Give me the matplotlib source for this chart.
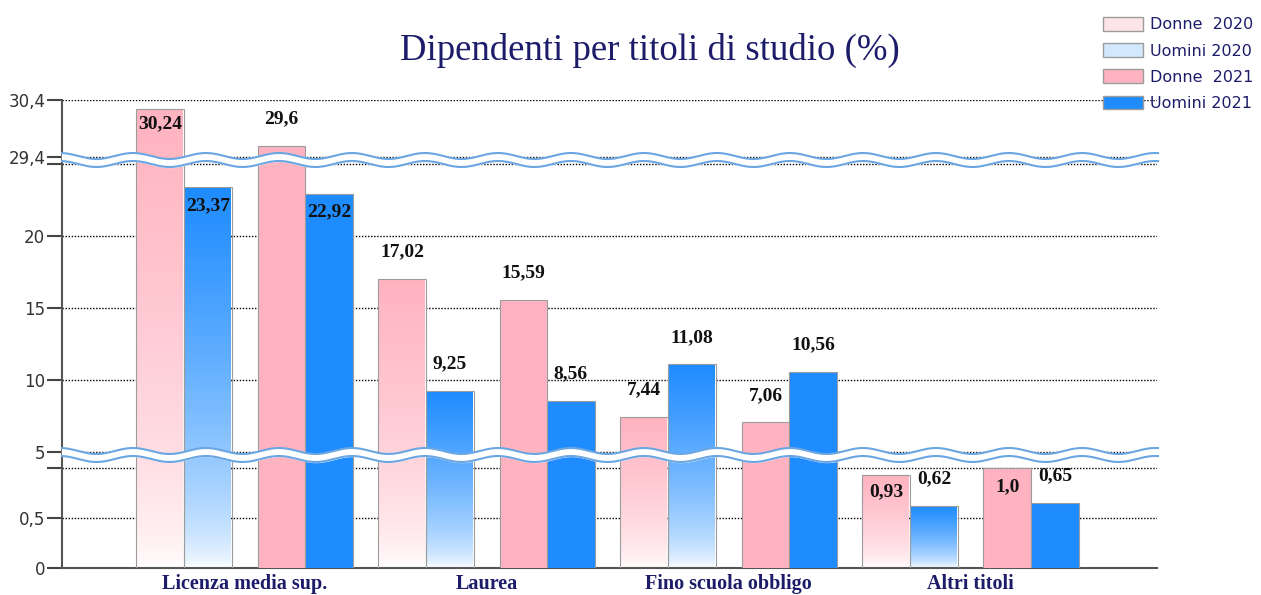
import numpy as np
import matplotlib
matplotlib.use("Agg")
import matplotlib.pyplot as plt
from matplotlib import transforms
from matplotlib.colors import LinearSegmentedColormap
from matplotlib.patches import Patch

categories = ["Licenza media sup.", "Laurea", "Fino scuola obbligo", "Altri titoli"]
series_names = ["Donne  2020", "Uomini 2020", "Donne  2021", "Uomini 2021"]
donne_2020 = [30.24, 17.02, 7.44, 0.93]
uomini_2020 = [23.37, 9.25, 11.08, 0.62]
donne_2021 = [29.6, 15.59, 7.06, 1.0]
uomini_2021 = [22.92, 8.56, 10.56, 0.65]

tick_values = [0, 0.5, 1, 5, 10, 15, 20, 25, 29.4, 30.4]
tick_labels = ["0", "0,5", "", "5", "10", "15", "20", "", "29,4", "30,4"]

# broken axis: segments 0-1, 5-25, 29.4-30.4 (heights in px above baseline)
break_vals = [-100, 0, 1, 5, 25, 29.4, 30.4, 100]
break_px = [-10000, 0, 100, 116, 404, 411, 468, 468 + 69.6 * 57]


def fwd(v):
    return np.interp(v, break_vals, break_px)


def inv(p):
    return np.interp(p, break_px, break_vals)


PINK = "#ffb3c0"
BLUE = "#1e8cff"
EDGE = "#9c9c9c"
NAVY = "#1c1c6a"

fig = plt.figure(figsize=(12.61, 5.95), dpi=100)
ax = fig.add_axes([62 / 1261, 27 / 595, 1095 / 1261, 468 / 595])
ax.set_yscale("function", functions=(fwd, inv))
xlim = (-0.754, 3.771)
ylim = (0, 30.4)
ax.set_xlim(*xlim)
ax.set_ylim(*ylim)

x = np.arange(len(categories))
w = 0.198
offsets = [-0.349, -0.151, 0.153, 0.349]
series = [donne_2020, uomini_2020, donne_2021, uomini_2021]
colors = [PINK, BLUE, PINK, BLUE]
gradient = [True, True, False, False]
# label shift in px relative to bar top (positive = above)
shifts = [[-15, 27, 27, -17],
          [-18, 27, 27, 27],
          [27, 27, 27, -19],
          [-18, 27, 27, 27]]

grad = (np.linspace(0, 1, 256) ** 0.6).reshape(-1, 1)
blend = transforms.blended_transform_factory(ax.transData, ax.transAxes)

for vals, off, col, g, sh in zip(series, offsets, colors, gradient, shifts):
    xs = x + off
    if g:
        cmap = LinearSegmentedColormap.from_list("g", ["white", col])
        for xi, v in zip(xs, vals):
            top = ax.transAxes.inverted().transform(ax.transData.transform((0, v)))[1]
            ax.imshow(grad, cmap=cmap, extent=(xi - w / 2, xi + w / 2, 0, top),
                      transform=blend, aspect="auto", origin="lower",
                      interpolation="bilinear", zorder=2)
        ax.bar(xs, vals, w, facecolor="none", edgecolor=EDGE, linewidth=0.8, zorder=3)
    else:
        ax.bar(xs, vals, w, facecolor=col, edgecolor=EDGE, linewidth=0.8, zorder=3)
    for xi, v, s in zip(xs, vals, sh):
        ax.annotate(str(v).replace(".", ","), xy=(xi, v), xytext=(0, s),
                    textcoords="offset pixels", ha="center", va="center",
                    fontsize=14, fontweight="bold", family="Liberation Serif",
                    color="#111111", zorder=6)

ax.set_xlim(*xlim)
ax.set_ylim(*ylim)

ax.set_yticks(tick_values)
ax.set_yticklabels(tick_labels)
ax.yaxis.grid(True, linestyle=(0, (1, 1.2)), color="black", linewidth=1.0)
ax.set_axisbelow(True)
ax.tick_params(axis="y", length=10.5, width=1.5, color="#444444", pad=1.5,
               labelsize=12, labelcolor="#333333")
ax.set_xticks(x)
ax.set_xticklabels(categories, fontsize=14.5, fontweight="bold",
                   family="Liberation Serif", color=NAVY)
ax.tick_params(axis="x", length=0, pad=4)
for s in ["top", "right"]:
    ax.spines[s].set_visible(False)
for s in ["left", "bottom"]:
    ax.spines[s].set_color("#555555")
    ax.spines[s].set_linewidth(1.5)

# wavy break markers
P = 73.0
x0_px, x1_px = 62, 1158
xx = np.linspace(x0_px, x1_px, 1200)
ident = transforms.IdentityTransform()
for v in [29.4, 5]:
    c = ax.transData.transform((0, v))[1] - 3
    wave = 3.0 * np.cos(2 * np.pi * (xx - 133) / P)
    up = c + 4 + wave
    lo = c - 4 + wave
    ax.fill_between(xx, lo, up, color="white", transform=ident, zorder=5, clip_on=False)
    ax.plot(xx, up, color="#6aa6e2", lw=1.5, transform=ident, zorder=5, clip_on=False)
    ax.plot(xx, lo, color="#6aa6e2", lw=1.5, transform=ident, zorder=5, clip_on=False)

fig.text(650 / 1261, 1 - 50 / 595, "Dipendenti per titoli di studio (%)",
         ha="center", va="center", fontsize=26.5, family="Liberation Serif", color=NAVY)

handles = [Patch(facecolor="#fde4e8", edgecolor=EDGE),
           Patch(facecolor="#d2e8fc", edgecolor=EDGE),
           Patch(facecolor=PINK, edgecolor=EDGE),
           Patch(facecolor=BLUE, edgecolor=EDGE)]
fig.legend(handles, series_names, loc="upper left",
           bbox_to_anchor=(1103 / 1261, 1 - 17 / 595), frameon=False,
           borderpad=0, borderaxespad=0, handlelength=2.5, handleheight=0.95,
           handletextpad=0.45, labelspacing=0.68,
           prop=dict(family="DejaVu Sans", size=11.5), labelcolor=NAVY)

fig.savefig("out.png", dpi=100)
